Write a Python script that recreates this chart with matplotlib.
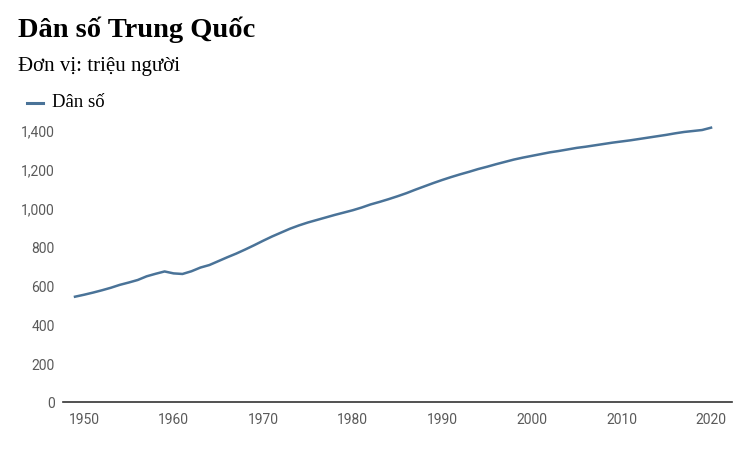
import matplotlib
matplotlib.use("Agg")
import matplotlib.pyplot as plt
from matplotlib.ticker import FuncFormatter

# dan so Trung Quoc, trieu nguoi
years = list(range(1949, 2021))
population = [
    542, 552, 563, 575, 588, 603, 615, 628, 647, 660,
    672, 662, 659, 673, 692, 705, 725, 745, 764, 785,
    807, 830, 852, 872, 892, 909, 924, 937, 950, 963,
    975, 987, 1001, 1017, 1030, 1044, 1059, 1075, 1093, 1110,
    1127, 1143, 1158, 1172, 1185, 1199, 1211, 1224, 1236, 1248,
    1258, 1267, 1276, 1285, 1292, 1300, 1308, 1314, 1321, 1328,
    1335, 1341, 1347, 1354, 1361, 1368, 1375, 1383, 1390, 1395,
    1400, 1412,
]
x_ticks = [1950, 1960, 1970, 1980, 1990, 2000, 2010, 2020]
y_ticks = [0, 200, 400, 600, 800, 1000, 1200, 1400]

LINE_COLOR = "#4a7398"
TICK_COLOR = "#5a5a5a"
SERIF = ["Liberation Serif", "DejaVu Serif"]
SANS = ["Roboto", "DejaVu Sans"]

fig = plt.figure(figsize=(7.5, 4.52), dpi=100)
ax = fig.add_axes([63 / 750, 1 - 403 / 452, (732 - 63) / 750, (403 - 118) / 452])

ax.plot(years, population, color=LINE_COLOR, linewidth=1.8)

ax.set_xlim(1947.66, 2022.34)
ax.set_ylim(0, 1467)
ax.set_xticks(x_ticks)
ax.set_yticks(y_ticks)
ax.yaxis.set_major_formatter(FuncFormatter(lambda v, p: "{:,.0f}".format(v)))

for side in ["top", "right", "left"]:
    ax.spines[side].set_visible(False)
ax.spines["bottom"].set_color("#333333")
ax.spines["bottom"].set_linewidth(1.2)
ax.tick_params(axis="both", length=0, colors=TICK_COLOR, labelsize=10)
ax.tick_params(axis="y", pad=6)
ax.tick_params(axis="x", pad=7)
for lbl in ax.get_xticklabels() + ax.get_yticklabels():
    lbl.set_family(SANS)

fig.text(18 / 750, 1 - 30 / 452, "Dân số Trung Quốc", family=SERIF,
         fontsize=20.5, fontweight="bold", va="center", ha="left")
fig.text(18 / 750, 1 - 66 / 452, "Đơn vị: triệu người", family=SERIF,
         fontsize=15, va="center", ha="left")

# legend
fig.add_artist(plt.Line2D([27 / 750, 43 / 750], [1 - 104 / 452, 1 - 104 / 452],
                          color=LINE_COLOR, linewidth=2.2))
fig.text(52 / 750, 1 - 103 / 452, "Dân số", family=SERIF, fontsize=13.5,
         va="center", ha="left")

fig.savefig("out.png", dpi=100)
